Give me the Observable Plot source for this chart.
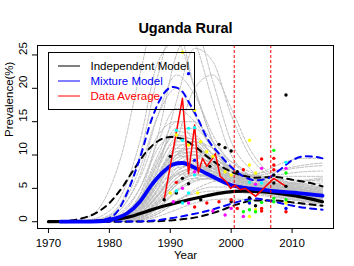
<!DOCTYPE html>
<html><head><meta charset="utf-8">
<script src="https://cdn.jsdelivr.net/npm/d3@7"></script>
<script src="https://cdn.jsdelivr.net/npm/@observablehq/plot@0.6"></script>
<style>
html,body{margin:0;padding:0;background:#fff;}
#wrap{position:relative;width:354px;height:266px;font-family:"Liberation Sans",Arial,Helvetica,sans-serif;}
#legend{position:absolute;left:48px;top:52px;}
</style></head><body><div id="wrap"></div>
<script>
// ---- data ----
const title = "Uganda Rural";
const xLabel = "Year";
const yLabel = "Prevalence(%)";
const xTicks = [1970, 1980, 1990, 2000, 2010];
const yTicks = [0, 5, 10, 15, 20, 25];
const xRange = [1970, 2015];
const yRange = [0, 25.4];
const surveyLines = [2000.5, 2006.5];
const legendLabels = ["Independent Model", "Mixture Model", "Data Average"];

// simulated trajectories (grey)
const greyYears = [1972,1976,1979,1982,1985,1988,1991,1994,1997,2000,2003,2006,2009,2012,2015];
const greyRuns = [
  [0,0.5,3,10,22,32,30,20,12,7.5,5.8,5,4.5,4,3.6],
  [0,0.1,0.6,3,10,22,30,27,18,10,7,5.5,5,4.5,4],
  [0,0,0.2,1,4,13,25,29,21,12,8,6,5,4.5,4],
  [0,0.1,0.5,2.5,8,16,20,16,11,7.5,6,5.5,5,4.5,4],
  [0,0,0.2,1.2,5,12,17,15,11,8,6.5,5.5,5,4.6,4.2],
  [0,0,0.1,0.8,3.5,9,14,14,11,8,6,5.2,4.7,4.3,4],
  [0,0,0.1,0.6,2.5,7,11,11,9,7,5.8,5,4.6,4.2,3.8],
  [0,0,0.05,0.4,1.8,5.5,9,10,8.5,7,6,5.5,5,4.6,4.2],
  [0,0,0.05,0.3,1.2,4,7.5,8.5,8,7,6,5.4,5,4.6,4.2],
  [0,0,0,0.2,0.8,3,6,7.5,7.5,6.8,6,5.5,5,4.5,4],
  [0,0,0,0.1,0.5,2,4.5,6,6.5,6,5.5,5,4.6,4.2,3.8],
  [0,0,0,0.05,0.3,1.2,3,4.5,5.2,5.2,5,4.7,4.4,4,3.6],
  [0,0,0,0.05,0.3,1.2,3,4.8,6,6.5,7,7.5,8,8.5,8.8],
  [0,0,0,0.1,0.5,2,4.5,6.5,7,6.5,6.8,7.8,9,9.5,9.5],
  [0,0,0.1,0.5,2,6,10,11,9,6.5,5,4.5,4.2,4,3.6],
  [0,0.05,0.3,1.5,5,11,13,11,8,6,5,4.5,4.2,3.8,3.4],
  [0,0,0.1,0.8,3,8.5,12,12,9.5,7,5.5,4.8,4.2,3.7,3.2],
  [0,0,0,0.1,0.4,1.5,3.2,4.2,4.6,4.5,4.2,3.8,3.4,3,2.6],
  [0,0,0.05,0.4,1.5,4.5,7,7.2,6.3,5.3,4.6,4,3.6,3.2,2.8],
  [0,0,0.1,0.7,2.8,7.5,10,9,7,5.5,4.6,4,3.5,3.1,2.7],
  [0,0.05,0.4,2,6.5,13,15,12,8.5,6.2,5,4.3,3.8,3.4,3],
  [0,0,0.2,1,4,10,15,15,12,9,7,6,5.5,5,4.6],
  [0,0,0,0.3,1.2,4,8,10,9.5,8,7,6.4,6,5.6,5.2],
  [0,0,0,0.1,0.6,2.5,5.5,7.5,8,7.5,7,6.8,6.8,6.8,6.8],
  [0,0,0.3,2,7,16,22,19,13,8.5,6.2,5,4.5,4,3.6],
  [0,0.2,1,4,12,24,27,20,12,7.5,5.5,4.8,4.3,3.9,3.5],
  [0,0,0.1,0.5,2,6,10,12,11,9,7.5,6.6,6,5.5,5],
  [0,0,0,0.2,0.9,3,6,7,6.5,5.5,4.8,4.2,3.8,3.4,3],
  [0,0,0,0.05,0.2,0.8,1.8,2.8,3.3,3.4,3.3,3.1,2.9,2.6,2.3],
  [0,0,0.05,0.5,2,6,9,9,7.5,6.3,5.6,5.4,5.6,6,6.4],
  [0,0,0.05,0.3,1.3,4,7,8,7.5,6.8,6.8,7.2,7.8,8.2,8.4],
  [0,0,0.1,0.6,2.5,7,10.5,10,8,6.8,6.5,6.8,7.2,7.5,7.6],
  [0,0,0.1,0.6,2.5,8,18,26,24,16,10,7,5.5,4.8,4.3],
  [0,0,0.05,0.3,1.5,5,12,20,22,17,11,7.5,6,5.2,4.6],
  [0,0,0.1,0.7,2.8,8,12.5,12.5,10,7.5,6,5.2,4.6,4.1,3.7],
  [0,0,0.15,0.9,3.5,9.5,13,12,9,6.8,5.5,4.8,4.3,3.9,3.5],
  [0,0,0.05,0.5,2,6.5,10.5,11,9.5,7.8,6.5,5.8,5.2,4.8,4.4],
  [0,0,0.05,0.4,1.6,5,8.5,9.5,8.8,7.5,6.4,5.7,5.2,4.8,4.4],
  [0,0,0.02,0.25,1.1,3.8,7,8,7.6,6.6,5.8,5.2,4.8,4.4,4],
  [0,0,0.02,0.2,0.9,3.3,6.5,8,8.2,7.5,6.6,6,5.6,5.2,4.8],
  [0,0,0.01,0.15,0.7,2.6,5.5,7,7.2,6.6,6,5.6,5.3,5,4.7],
  [0,0,0.1,0.6,2.4,7,11.5,11.5,9,6.6,5.4,4.7,4.2,3.8,3.4],
  [0,0,0.08,0.5,2.2,6.5,10,10.5,8.8,7,5.9,5.2,4.7,4.3,3.9],
  [0,0,0.05,0.35,1.5,4.8,8,8.5,7.5,6.2,5.3,4.7,4.2,3.8,3.4],
  [0,0,0.02,0.2,0.8,2.8,5.5,6.5,6.3,5.6,5,4.5,4.1,3.7,3.3],
  [0,0,0.02,0.2,0.9,3,5.8,7,7,6.3,5.8,5.6,5.8,6.2,6.6],
  [0,0,0.05,0.4,1.7,5.5,9.5,10.5,9.5,8,7,6.5,6.3,6.2,6.1],
  [0,0,0.12,0.8,3.2,9,13.5,13,10,7.5,6,5.3,4.8,4.4,4],
  [0,0,0.05,0.3,1.3,4.2,7.5,8.8,8.5,7.6,6.8,6.2,5.8,5.4,5],
  [0,0,0.03,0.25,1,3.5,6.5,7.8,7.8,7,6.3,5.8,5.5,5.2,4.9],
  [0,0,0.1,0.5,2.2,6.8,11,12,10.2,8,6.6,5.8,5.2,4.8,4.4],
  [0,0,0.07,0.45,1.9,5.8,9.5,10,8.5,6.8,5.6,4.9,4.4,4,3.6],
  [0,0,0.04,0.3,1.2,4,7.2,8,7.2,6,5.2,4.6,4.1,3.7,3.3],
  [0,0,0.02,0.15,0.6,2.2,4.8,6.2,6.5,6.2,5.8,5.6,5.6,5.7,5.8]
];

// Independent model (black)
const indepYears = [1970,1975,1978,1980,1982,1984,1986,1988,1990,1993,1996,1999,2002,2005,2008,2011,2015];
const indepMean  = [0,0.03,0.1,0.25,0.5,0.9,1.5,2.1,2.6,3.3,3.9,4.4,4.6,4.5,4.2,3.8,3.0];
const indepUpYears = [1970,1972,1975,1978,1980,1982,1984,1986,1988,1990,1992,1994,1996,1998,2000,2002,2004,2007,2010,2013,2015];
const indepUpper   = [0,0.05,0.4,1.4,2.8,5.0,7.8,10.4,12.1,12.7,12.4,11.3,9.8,8.5,7.5,6.9,6.6,6.7,6.3,5.8,5.3];
const indepLoYears = [1970,1985,1990,1995,1998,2001,2004,2007,2010,2015];
const indepLower   = [0,0.02,0.2,0.8,1.6,2.6,3.2,3.2,2.9,2.4];

// Mixture model (blue)
const mixYears = [1972,1976,1979,1981,1983,1985,1987,1989,1990.5,1992,1994,1996,1998,2000,2002,2005,2008,2011,2015];
const mixMean  = [0,0.02,0.1,0.5,1.3,3.0,5.6,7.6,8.6,8.8,8.1,7.2,6.3,5.5,5.1,4.8,4.5,4.3,3.9];
const mixUpYears = [1972,1976,1979,1981,1983,1985,1987,1989,1990.5,1992,1993,1994.5,1996,1998,2000,2002,2004,2006,2008,2010,2012,2014,2015];
const mixUpper   = [0,0.05,0.3,1.2,4.5,9.5,15.5,19.3,20.2,19.5,18,15.5,12.6,10.2,8.2,6.8,6.2,6.5,7.8,9.2,9.8,9.7,9.5];
const mixLoYears = [1972,1985,1990,1993,1996,1999,2002,2004,2006,2009,2012,2015];
const mixLower   = [0,0.05,0.5,1.0,1.6,2.4,3.2,3.5,3.2,2.6,2.1,1.8];

// Data average (red)
const avgYears = [1989,1992,1993,1994,1994.6,1995.3,1996,1996.8,1997.4,1998.2,1999.2,1999.9,2000.6,2001.5,2002.3,2004,2007,2009];
const avgValues = [3.3,18.5,7.2,14.5,7.3,9.5,8.3,9.3,10.2,6.8,6.0,5.0,5.5,4.8,5.0,3.8,6.5,5.3];

// survey observations
const blackPts = [[1989,3.3],[1990,9.8],[1991,4.3],[1992,6.5],[1993,5.7],[1995,3.3],[1996.5,8.3],[1998,11.6],[1999,11.1],[2000,10.6],[2001,7.5],[2000,3.0],[2003,3.6],[2004,2.4],[2007,7.0],[2007,5.8],[2009,5.3],[2009,19.0]];
const redPts = [[1991,5.9],[1994,2.2],[1996,2.8],[1998,3.0],[2000,3.3],[2002,7.8],[2001,2.0],[2005,9.4],[2005,2.0],[2005,1.6],[2007,9.5],[2007,8.5],[2007,7.8],[2009,1.5]];
const yellowPts = [[1990,4.3],[1991,13.0],[1992,25.4],[1993,11.5],[1994,16.7],[1994.5,4.3],[1995,12.0],[1996,10.5],[1997,9.8],[1999,7.5],[2000,7.0],[2003,12.2],[2003,8.5],[2004,7.3],[2003,0.8],[2004,1.8],[2009,2.8]];
const cyanPts = [[1991,13.7],[1992,12.2],[1993,14.0],[1994,14.1],[1991,4.6],[1993,4.3],[1992,2.8],[1994,7.0],[2003,5.9],[2005,5.8],[2009,8.9],[2004,5.5]];
const magentaPts = [[1992,5.0],[1993,2.8],[1994,7.5],[1997,1.6],[1999,1.0],[2000,2.0],[2002,0.8],[2005,8.0],[2009,8.0],[2004,5.6],[1990.5,3.0]];
const greenPts = [[2002,1.5],[2003,1.8],[2003,3.0],[2005,2.9],[2007,10.7],[2007,3.5],[2007,3.0],[2009,7.3],[2009,3.3],[2004,1.5]];
const bluePts = [[1993,22.2],[1994,9.2],[2003,2.8],[2009,2.0]];

// ---- build tables ----
const zip = (xs, vs) => xs.map((x, i) => ({x, y: vs[i]}));
const grey = greyRuns.flatMap((run, r) => run.map((v, j) => ({run: r, x: greyYears[j], y: v})));
const pointSets = [
  ["#000000", blackPts], ["#FF0000", redPts], ["#FFFF00", yellowPts], ["#00FFFF", cyanPts],
  ["#FF00FF", magentaPts], ["#00FF00", greenPts], ["#0000FF", bluePts]
];
const pts = pointSets.flatMap(([c, arr]) => arr.map(([x, y]) => ({x, y, c})));

const pad = (r) => { const d = (r[1] - r[0]) * 0.04; return [r[0] - d, r[1] + d]; };
const font = "'Liberation Sans', Arial, Helvetica, sans-serif";
const dash = "6,5";

const chart = Plot.plot({
  width: 354, height: 266,
  marginLeft: 37, marginRight: 21, marginTop: 45, marginBottom: 38,
  x: {domain: pad(xRange)},
  y: {domain: pad(yRange)},
  style: {fontFamily: font, fontSize: "11.5px", background: "white", color: "black"},
  marks: [
    Plot.line(grey, {x: "x", y: "y", z: "run", stroke: "#bebebe", strokeWidth: 1, strokeDasharray: "3,1.5", curve: "monotone-x", clip: true}),
    Plot.line(zip(indepUpYears, indepUpper), {x: "x", y: "y", stroke: "black", strokeWidth: 2, strokeDasharray: dash, curve: "monotone-x", clip: true}),
    Plot.line(zip(indepLoYears, indepLower), {x: "x", y: "y", stroke: "black", strokeWidth: 2, strokeDasharray: dash, curve: "monotone-x", clip: true}),
    Plot.line(zip(indepYears, indepMean), {x: "x", y: "y", stroke: "black", strokeWidth: 3.2, curve: "monotone-x", clip: true}),
    Plot.line(zip(mixUpYears, mixUpper), {x: "x", y: "y", stroke: "#0000FF", strokeWidth: 2, strokeDasharray: dash, curve: "monotone-x", clip: true}),
    Plot.line(zip(mixLoYears, mixLower), {x: "x", y: "y", stroke: "#0000FF", strokeWidth: 2, strokeDasharray: dash, curve: "monotone-x", clip: true}),
    Plot.line(zip(mixYears, mixMean), {x: "x", y: "y", stroke: "#0000FF", strokeWidth: 3.8, curve: "monotone-x", clip: true}),
    Plot.line(zip(avgYears, avgValues), {x: "x", y: "y", stroke: "#FF0000", strokeWidth: 1.5, clip: true}),
    Plot.dot(pts, {x: "x", y: "y", fill: "c", r: 1.7, stroke: null}),
    Plot.ruleX(surveyLines, {stroke: "#FF0000", strokeWidth: 1, strokeDasharray: "3,2"}),
    Plot.frame({stroke: "black"}),
    Plot.axisX(xTicks, {tickSize: 5, tickPadding: 5, label: null, fontSize: 11.5, tickFormat: d => String(d)}),
    Plot.axisY(yTicks, {tickSize: 5, label: null, tickFormat: () => ""}),
    Plot.text(yTicks, {y: d => d, text: d => String(d), frameAnchor: "left", dx: -14, rotate: -90, fontSize: 11.5}),
    Plot.text([title], {text: d => d, frameAnchor: "top", dy: -23, fontWeight: "bold", fontSize: 14.5}),
    Plot.text([xLabel], {text: d => d, frameAnchor: "bottom", dy: 30, fontSize: 11.5}),
    Plot.text([yLabel], {text: d => d, frameAnchor: "left", dx: -28, rotate: -90, fontSize: 11.5})
  ]
});
const wrap = document.getElementById("wrap");
wrap.appendChild(chart);

// legend overlay (transparent box, as in the original)
const legColors = ["#000000", "#0000FF", "#FF0000"];
const ns = "http://www.w3.org/2000/svg";
const leg = document.createElementNS(ns, "svg");
leg.setAttribute("id", "legend");
leg.setAttribute("width", "148");
leg.setAttribute("height", "60");
leg.setAttribute("style", "position:absolute;left:47px;top:51px;overflow:visible");
const box = document.createElementNS(ns, "rect");
box.setAttribute("x", "1.5"); box.setAttribute("y", "1.5");
box.setAttribute("width", "146"); box.setAttribute("height", "57");
box.setAttribute("fill", "none"); box.setAttribute("stroke", "black");
leg.appendChild(box);
legendLabels.forEach((lab, i) => {
  const yy = 15 + i * 15;
  const ln = document.createElementNS(ns, "line");
  ln.setAttribute("x1", "11"); ln.setAttribute("x2", "33");
  ln.setAttribute("y1", yy); ln.setAttribute("y2", yy);
  ln.setAttribute("stroke", legColors[i]); ln.setAttribute("stroke-width", "1");
  leg.appendChild(ln);
  const t = document.createElementNS(ns, "text");
  t.setAttribute("x", "43.5"); t.setAttribute("y", yy + 4);
  t.setAttribute("fill", legColors[i]);
  t.setAttribute("font-family", font);
  t.setAttribute("font-size", "11.5");
  t.textContent = lab;
  leg.appendChild(t);
});
wrap.appendChild(leg);
</script></body></html>
